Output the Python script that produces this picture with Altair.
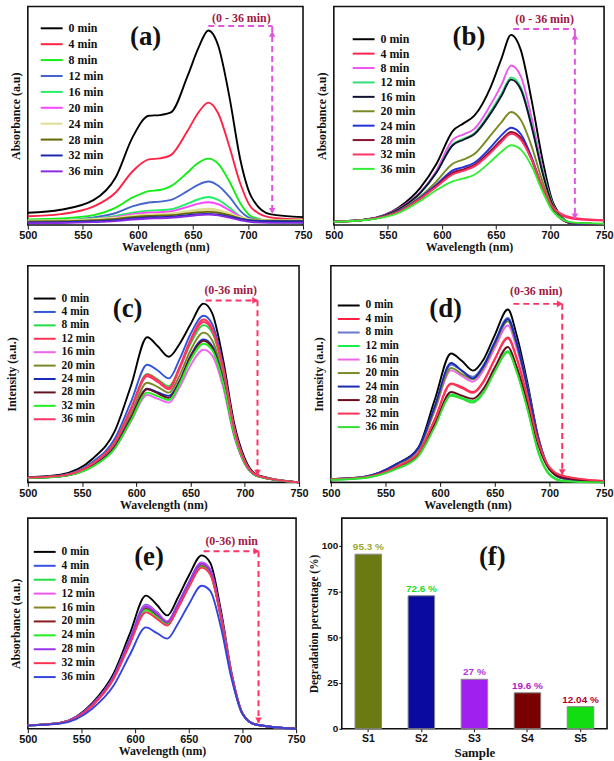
import altair as alt
import pandas as pd

TIMES = ["0 min", "4 min", "8 min", "12 min", "16 min", "20 min", "24 min", "28 min", "32 min", "36 min"]
X_TICKS = [500, 550, 600, 650, 700, 750]

# wavelength grids (nm)
WL_AB = [500, 530, 560, 580, 595, 610, 620, 630, 645, 655, 664, 673, 683, 693, 703, 720, 750]
WL_CDE = [500, 530, 560, 580, 595, 610, 620, 630, 640, 650, 662, 670, 680, 690, 700, 712, 750]

# ---------------- panel (a) ----------------
A_CURVES = [
    [0.056, 0.07, 0.115, 0.22, 0.40, 0.50, 0.503, 0.515, 0.68, 0.81, 0.89, 0.82, 0.59, 0.30, 0.13, 0.05, 0.036],
    [0.04, 0.05, 0.085, 0.15, 0.245, 0.30, 0.305, 0.32, 0.43, 0.515, 0.56, 0.51, 0.36, 0.19, 0.08, 0.035, 0.025],
    [0.026, 0.03, 0.045, 0.08, 0.125, 0.155, 0.16, 0.178, 0.24, 0.285, 0.304, 0.28, 0.20, 0.10, 0.04, 0.02, 0.015],
    [0.02, 0.022, 0.035, 0.055, 0.085, 0.103, 0.107, 0.115, 0.155, 0.185, 0.199, 0.18, 0.13, 0.065, 0.03, 0.02, 0.018],
    [0.02, 0.022, 0.03, 0.042, 0.057, 0.066, 0.068, 0.072, 0.098, 0.118, 0.128, 0.115, 0.08, 0.04, 0.02, 0.012, 0.01],
    [0.018, 0.02, 0.027, 0.037, 0.05, 0.057, 0.059, 0.063, 0.083, 0.098, 0.104, 0.095, 0.068, 0.038, 0.022, 0.018, 0.018],
    [0.017, 0.018, 0.024, 0.03, 0.04, 0.045, 0.047, 0.05, 0.06, 0.068, 0.071, 0.066, 0.05, 0.032, 0.022, 0.02, 0.02],
    [0.016, 0.017, 0.022, 0.028, 0.036, 0.041, 0.043, 0.045, 0.053, 0.058, 0.06, 0.056, 0.045, 0.03, 0.022, 0.02, 0.02],
    [0.012, 0.013, 0.017, 0.022, 0.03, 0.035, 0.036, 0.038, 0.045, 0.05, 0.051, 0.047, 0.038, 0.028, 0.02, 0.017, 0.016],
    [0.008, 0.009, 0.013, 0.018, 0.025, 0.03, 0.031, 0.033, 0.04, 0.046, 0.048, 0.044, 0.034, 0.022, 0.013, 0.01, 0.01],
]
A_COLORS = ["#000000", "#ff2244", "#11ee11", "#4466cc", "#22ee66", "#ff44ff", "#dede90", "#666600", "#1a2aaa", "#8a2be2"]
A_WIDTHS = [1.9, 1.9, 1.9, 1.9, 1.9, 1.9, 3.5, 1.9, 1.9, 1.9]
A_ANN = {"h": [664, 722, 0.91], "v": [722, 0.91, 0.06], "text": "(0 - 36 min)", "text_xy": [694, 0.945],
         "heads": [[722, 0.875, "triangle-up"], [722, 0.065, "triangle-down"]], "label": "(a)", "label_xy": [607, 0.86]}

# ---------------- panel (b) ----------------
B_CURVES = [
    [0.015, 0.025, 0.08, 0.17, 0.28, 0.43, 0.465, 0.50, 0.63, 0.76, 0.87, 0.80, 0.57, 0.30, 0.10, 0.01, 0.005],
    [0.015, 0.024, 0.06, 0.12, 0.178, 0.235, 0.25, 0.27, 0.335, 0.385, 0.42, 0.395, 0.30, 0.17, 0.075, 0.03, 0.02],
    [0.015, 0.025, 0.075, 0.15, 0.25, 0.39, 0.415, 0.44, 0.55, 0.64, 0.73, 0.68, 0.49, 0.26, 0.09, 0.01, 0.005],
    [0.015, 0.025, 0.07, 0.145, 0.24, 0.37, 0.395, 0.42, 0.52, 0.60, 0.675, 0.63, 0.46, 0.25, 0.09, 0.01, 0.005],
    [0.015, 0.025, 0.072, 0.147, 0.24, 0.365, 0.39, 0.415, 0.51, 0.59, 0.665, 0.62, 0.45, 0.24, 0.085, 0.008, 0.004],
    [0.015, 0.024, 0.065, 0.13, 0.2, 0.28, 0.3, 0.325, 0.41, 0.47, 0.517, 0.48, 0.36, 0.2, 0.075, 0.01, 0.005],
    [0.015, 0.024, 0.062, 0.125, 0.185, 0.25, 0.265, 0.285, 0.355, 0.41, 0.445, 0.415, 0.31, 0.17, 0.065, 0.008, 0.004],
    [0.015, 0.024, 0.06, 0.12, 0.18, 0.24, 0.255, 0.275, 0.34, 0.39, 0.426, 0.40, 0.30, 0.165, 0.065, 0.01, 0.005],
    [0.015, 0.024, 0.06, 0.12, 0.175, 0.232, 0.248, 0.268, 0.33, 0.38, 0.417, 0.39, 0.30, 0.175, 0.08, 0.035, 0.022],
    [0.015, 0.023, 0.055, 0.11, 0.16, 0.2, 0.213, 0.23, 0.29, 0.335, 0.365, 0.345, 0.27, 0.155, 0.06, 0.012, 0.006],
]
B_COLORS = ["#000000", "#ff2255", "#ee55ee", "#33dd77", "#111133", "#7a8a22", "#2233dd", "#8b1030", "#ff3366", "#33ee33"]
B_ANN = {"h": [666, 723, 0.897], "v": [723, 0.897, 0.03], "text": "(0 - 36 min)", "text_xy": [695, 0.943],
         "heads": [[723, 0.862, "triangle-up"], [723, 0.04, "triangle-down"]], "label": "(b)", "label_xy": [625, 0.86]}

# ---------------- panel (c) ----------------
C_CURVES = [
    [0.023, 0.035, 0.11, 0.235, 0.445, 0.67, 0.627, 0.58, 0.64, 0.73, 0.825, 0.78, 0.566, 0.277, 0.11, 0.033, 0.0],
    [0.022, 0.032, 0.095, 0.2, 0.37, 0.543, 0.515, 0.48, 0.57, 0.685, 0.769, 0.73, 0.54, 0.26, 0.1, 0.03, 0.0],
    [0.022, 0.03, 0.088, 0.185, 0.34, 0.50, 0.475, 0.444, 0.53, 0.64, 0.726, 0.69, 0.515, 0.25, 0.095, 0.03, 0.0],
    [0.022, 0.03, 0.088, 0.185, 0.34, 0.498, 0.47, 0.437, 0.535, 0.66, 0.752, 0.71, 0.53, 0.255, 0.097, 0.03, 0.0],
    [0.02, 0.028, 0.075, 0.155, 0.28, 0.403, 0.385, 0.368, 0.44, 0.54, 0.612, 0.585, 0.44, 0.215, 0.085, 0.028, 0.0],
    [0.021, 0.029, 0.082, 0.172, 0.315, 0.46, 0.44, 0.414, 0.495, 0.61, 0.691, 0.655, 0.49, 0.24, 0.092, 0.03, 0.0],
    [0.021, 0.028, 0.078, 0.163, 0.298, 0.432, 0.415, 0.399, 0.47, 0.585, 0.66, 0.628, 0.47, 0.23, 0.09, 0.029, 0.0],
    [0.021, 0.028, 0.077, 0.16, 0.295, 0.43, 0.41, 0.39, 0.465, 0.578, 0.653, 0.62, 0.465, 0.228, 0.089, 0.029, 0.0],
    [0.02, 0.027, 0.073, 0.155, 0.285, 0.414, 0.397, 0.38, 0.455, 0.565, 0.64, 0.61, 0.46, 0.225, 0.088, 0.028, 0.0],
    [0.022, 0.03, 0.086, 0.182, 0.335, 0.49, 0.462, 0.43, 0.525, 0.65, 0.74, 0.70, 0.525, 0.252, 0.096, 0.03, 0.0],
]
C_COLORS = ["#000000", "#3355dd", "#22dd44", "#ff3355", "#ee66ee", "#778822", "#1a2ab8", "#661122", "#22ee22", "#ff3366"]
C_ANN = {"h": [664, 711.7, 0.84], "v": [711.7, 0.84, 0.033], "text": "(0-36 min)", "text_xy": [687, 0.889],
         "heads": [[709.5, 0.84, "triangle-right"], [711.7, 0.045, "triangle-down"]], "label": "(c)", "label_xy": [592, 0.80]}

# ---------------- panel (d) ----------------
D_CURVES = [
    [0.015, 0.025, 0.085, 0.16, 0.38, 0.595, 0.56, 0.516, 0.57, 0.68, 0.798, 0.68, 0.457, 0.205, 0.063, 0.018, 0.0],
    [0.015, 0.023, 0.072, 0.135, 0.29, 0.457, 0.44, 0.417, 0.47, 0.57, 0.669, 0.575, 0.39, 0.18, 0.065, 0.028, 0.005],
    [0.015, 0.025, 0.082, 0.155, 0.345, 0.543, 0.515, 0.488, 0.545, 0.65, 0.759, 0.65, 0.44, 0.2, 0.065, 0.02, 0.0],
    [0.012, 0.02, 0.065, 0.125, 0.26, 0.406, 0.39, 0.375, 0.42, 0.515, 0.606, 0.515, 0.34, 0.14, 0.04, 0.008, 0.0],
    [0.015, 0.024, 0.08, 0.15, 0.33, 0.517, 0.49, 0.465, 0.52, 0.62, 0.724, 0.62, 0.42, 0.19, 0.062, 0.02, 0.0],
    [0.015, 0.024, 0.081, 0.152, 0.335, 0.528, 0.50, 0.476, 0.532, 0.635, 0.743, 0.635, 0.43, 0.195, 0.063, 0.02, 0.0],
    [0.015, 0.025, 0.084, 0.158, 0.35, 0.551, 0.515, 0.48, 0.54, 0.645, 0.753, 0.645, 0.435, 0.198, 0.064, 0.02, 0.0],
    [0.014, 0.022, 0.07, 0.13, 0.268, 0.417, 0.40, 0.386, 0.435, 0.53, 0.625, 0.535, 0.365, 0.17, 0.06, 0.022, 0.003],
    [0.015, 0.023, 0.072, 0.135, 0.29, 0.454, 0.435, 0.413, 0.465, 0.567, 0.665, 0.572, 0.39, 0.185, 0.07, 0.03, 0.006],
    [0.012, 0.02, 0.062, 0.12, 0.255, 0.40, 0.385, 0.368, 0.415, 0.51, 0.60, 0.51, 0.335, 0.135, 0.035, 0.005, 0.0],
]
D_COLORS = ["#000000", "#ff2244", "#6677cc", "#11ee44", "#ee66ee", "#7a8a2a", "#1a2ab8", "#6a0a1a", "#ff3355", "#33dd33"]
D_ANN = {"h": [667, 711.7, 0.824], "v": [711.7, 0.824, 0.035], "text": "(0-36 min)", "text_xy": [688, 0.885],
         "heads": [[709.5, 0.824, "triangle-right"], [711.7, 0.047, "triangle-down"]], "label": "(d)", "label_xy": [605, 0.80]}

# ---------------- panel (e) ----------------
E_CURVES = [
    [0.016, 0.028, 0.122, 0.263, 0.45, 0.632, 0.59, 0.538, 0.624, 0.726, 0.823, 0.788, 0.56, 0.263, 0.075, 0.02, 0.0],
    [0.016, 0.027, 0.115, 0.25, 0.425, 0.589, 0.555, 0.51, 0.595, 0.695, 0.79, 0.757, 0.54, 0.255, 0.073, 0.02, 0.0],
    [0.016, 0.027, 0.112, 0.243, 0.413, 0.569, 0.537, 0.50, 0.582, 0.68, 0.773, 0.74, 0.53, 0.25, 0.072, 0.02, 0.0],
    [0.016, 0.027, 0.114, 0.248, 0.422, 0.585, 0.552, 0.51, 0.593, 0.693, 0.788, 0.755, 0.54, 0.255, 0.073, 0.02, 0.0],
    [0.016, 0.027, 0.113, 0.246, 0.418, 0.577, 0.545, 0.505, 0.586, 0.684, 0.777, 0.745, 0.533, 0.252, 0.072, 0.02, 0.0],
    [0.016, 0.027, 0.112, 0.243, 0.413, 0.569, 0.537, 0.50, 0.58, 0.678, 0.771, 0.738, 0.528, 0.25, 0.072, 0.02, 0.0],
    [0.016, 0.027, 0.111, 0.241, 0.41, 0.564, 0.532, 0.495, 0.577, 0.675, 0.768, 0.735, 0.527, 0.25, 0.072, 0.02, 0.0],
    [0.016, 0.027, 0.114, 0.247, 0.42, 0.58, 0.547, 0.505, 0.59, 0.69, 0.784, 0.75, 0.537, 0.254, 0.073, 0.02, 0.0],
    [0.016, 0.026, 0.108, 0.236, 0.4, 0.553, 0.523, 0.49, 0.572, 0.67, 0.765, 0.732, 0.525, 0.25, 0.072, 0.02, 0.0],
    [0.015, 0.024, 0.095, 0.205, 0.35, 0.481, 0.455, 0.428, 0.5, 0.59, 0.679, 0.655, 0.48, 0.235, 0.07, 0.02, 0.0],
]
E_COLORS = ["#000000", "#3a4ee8", "#22dd44", "#ee55ee", "#888822", "#8b1a1a", "#22ee22", "#9933ee", "#ff3355", "#3344dd"]
E_ANN = {"h": [663.8, 715, 0.843], "v": [715, 0.843, 0.028], "text": "(0-36) min", "text_xy": [690, 0.89],
         "heads": [[713, 0.843, "triangle-right"], [715, 0.04, "triangle-down"]], "label": "(e)", "label_xy": [613, 0.816]}

# ---------------- panel (f) ----------------
SAMPLES = ["S1", "S2", "S3", "S4", "S5"]
DEGRADATION = [95.3, 72.6, 27, 19.6, 12.04]
BAR_COLORS = ["#6b7a12", "#0a0aa0", "#a020f0", "#7a0000", "#11dd11"]
BAR_LABELS = ["95.3 %", "72.6 %", "27 %", "19.6 %", "12.04 %"]
BAR_LABEL_COLORS = ["#9aaa30", "#22dd22", "#b030e0", "#b020c8", "#b00030"]
F_LABEL = {"s": "S3", "d": 94, "txt": "(f)"}

ARROW_AB = "#e055e0"
ARROW_CDE = "#ff3366"
ANN_TEXT_COLOR = "#a01845"
SERIF = "Liberation Serif"
SANS = "Liberation Sans"


def spectrum_panel(wl, curves, colors, ann, ytitle, ytitle_pad, width, height,
                   legend_xy, legend_rowpad, legend_font, arrow_color, widths=None):
    rows = []
    for i, (t, vals) in enumerate(zip(TIMES, curves)):
        for w, v in zip(wl, vals):
            rows.append({"wl": w, "v": v, "t": t, "sw": widths[i] if widths else 1.9})
    df = pd.DataFrame(rows)

    x = alt.X("wl:Q", scale=alt.Scale(domain=[500, 750], nice=False, zero=False),
              axis=alt.Axis(values=X_TICKS, title="Wavelength (nm)", labelFlush=False, format="d"))
    y = alt.Y("v:Q", scale=alt.Scale(domain=[0, 1], nice=False),
              axis=alt.Axis(title=ytitle, labels=False, ticks=False, domain=False, titlePadding=ytitle_pad))

    lines = alt.Chart(df).mark_line(interpolate="monotone").encode(
        x=x, y=y,
        color=alt.Color("t:N", scale=alt.Scale(domain=TIMES, range=colors),
                        legend=alt.Legend(title=None, orient="none", legendX=legend_xy[0], legendY=legend_xy[1],
                                          rowPadding=legend_rowpad, labelFontSize=legend_font)),
        strokeWidth=alt.StrokeWidth("sw:Q", scale=None),
    )

    hdf = pd.DataFrame([{"wl": ann["h"][0], "wl2": ann["h"][1], "v": ann["h"][2]}])
    hrule = alt.Chart(hdf).mark_rule(color=arrow_color, strokeWidth=2, strokeDash=[6, 4]).encode(
        x=x, x2="wl2:Q", y=y)
    vdf = pd.DataFrame([{"wl": ann["v"][0], "v": ann["v"][1], "v2": ann["v"][2]}])
    vrule = alt.Chart(vdf).mark_rule(color=arrow_color, strokeWidth=2, strokeDash=[6, 4]).encode(
        x=x, y=y, y2="v2:Q")
    headdf = pd.DataFrame([{"wl": h[0], "v": h[1], "shape": h[2]} for h in ann["heads"]])
    heads = alt.Chart(headdf).mark_point(filled=True, size=45, opacity=1, color=arrow_color).encode(
        x=x, y=y, shape=alt.Shape("shape:N", scale=None))
    tdf = pd.DataFrame([{"wl": ann["text_xy"][0], "v": ann["text_xy"][1], "txt": ann["text"]}])
    atext = alt.Chart(tdf).mark_text(font=SERIF, fontWeight="bold", fontSize=12, color=ANN_TEXT_COLOR).encode(
        x=x, y=y, text="txt:N")
    ldf = pd.DataFrame([{"wl": ann["label_xy"][0], "v": ann["label_xy"][1], "txt": ann["label"]}])
    label = alt.Chart(ldf).mark_text(font=SERIF, fontWeight="bold", fontSize=27, color="#111").encode(
        x=x, y=y, text="txt:N")

    return alt.layer(lines, hrule, vrule, heads, atext, label).properties(width=width, height=height)


panel_a = spectrum_panel(WL_AB, A_CURVES, A_COLORS, A_ANN, "Absorbance (a.u)", 5, 277, 220,
                         (24, 16), 4, 12, ARROW_AB, widths=A_WIDTHS)
panel_b = spectrum_panel(WL_AB, B_CURVES, B_COLORS, B_ANN, "Absorbance (a.u)", 5, 272, 220,
                         (30, 27), 2.5, 12, ARROW_AB)
panel_c = spectrum_panel(WL_CDE, C_CURVES, C_COLORS, C_ANN, "Intensity (a.u.)", 9, 273, 218,
                         (17, 27), 1.5, 11.5, ARROW_CDE)
panel_d = spectrum_panel(WL_CDE, D_CURVES, D_COLORS, D_ANN, "Intensity (a.u.)", 5, 275, 218,
                         (18, 34), 1.6, 11.5, ARROW_CDE)
panel_e = spectrum_panel(WL_CDE, E_CURVES, E_COLORS, E_ANN, "Absorbance (a.u.)", 5, 270, 212,
                         (17, 28), 2, 11.5, ARROW_CDE)

fdf = pd.DataFrame({"s": SAMPLES, "d": DEGRADATION, "c": BAR_COLORS, "lab": BAR_LABELS, "lc": BAR_LABEL_COLORS})
fx = alt.X("s:N", sort=SAMPLES, scale=alt.Scale(paddingInner=0.5, paddingOuter=0.25),
           axis=alt.Axis(labelAngle=0, title="Sample", titleFontSize=13, labelFontSize=10.5, tickSize=3,
                         labelPadding=2, titlePadding=2))
fy = alt.Y("d:Q", scale=alt.Scale(domain=[0, 115], nice=False),
           axis=alt.Axis(values=[0, 25, 50, 75, 100], title="Degradation percentage (%)", titleFontSize=11.5,
                         labelFontSize=10, tickSize=3, labelPadding=1, titlePadding=2))
bars = alt.Chart(fdf).mark_bar(stroke="#888888", strokeWidth=1).encode(
    x=fx, y=fy, color=alt.Color("c:N", scale=None))
bar_text = alt.Chart(fdf).mark_text(dy=-7, font=SANS, fontWeight="bold", fontSize=10).encode(
    x=fx, y=fy, text="lab:N", color=alt.Color("lc:N", scale=None))
flab_df = pd.DataFrame([F_LABEL])
flab = alt.Chart(flab_df).mark_text(dx=18, font=SERIF, fontWeight="bold", fontSize=27, color="#111").encode(
    x=fx, y=fy, text="txt:N")
panel_f = alt.layer(bars, bar_text, flab).properties(width=267, height=212)

row1 = alt.hconcat(panel_a, panel_b, spacing=2).resolve_scale(color="independent")
row2 = alt.hconcat(panel_c, panel_d, spacing=3).resolve_scale(color="independent")
row3 = alt.hconcat(panel_e, panel_f, spacing=1).resolve_scale(color="independent")
inner = alt.vconcat(row2, row3, spacing=6).resolve_scale(color="independent")
chart = alt.vconcat(row1, inner, spacing=11).resolve_scale(color="independent").properties(
    padding={"left": 5, "top": 3, "right": 0, "bottom": 0}
).configure_view(
    stroke="#111111", strokeWidth=1.6
).configure_axis(
    grid=False, domain=False, labelFont=SANS, labelFontWeight="bold", labelFontSize=11, labelColor="#111111",
    titleFont=SERIF, titleFontWeight="bold", titleFontSize=12, titleColor="#111111",
    tickSize=4, tickColor="#111111", labelPadding=1, titlePadding=1
).configure_legend(
    padding=0, labelFont=SERIF, labelFontWeight="bold", labelColor="#111111",
    symbolType="M-3.4,0H1", symbolSize=100, symbolStrokeWidth=2, labelOffset=5
)

chart.save("out.html", embed_options={"renderer": "svg", "actions": False})
